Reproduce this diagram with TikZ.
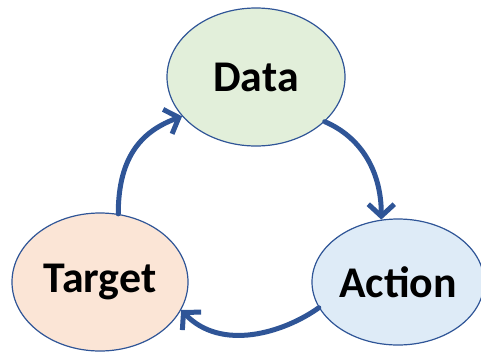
\documentclass[tikz,border=0pt]{standalone}
\usepackage{fontspec}
\setmainfont{Carlito}
\usetikzlibrary{shapes.geometric,arrows.meta}
\definecolor{lineblue}{HTML}{2F5597}
\definecolor{datafill}{HTML}{E2EFDA}
\definecolor{targetfill}{HTML}{FBE5D6}
\definecolor{actionfill}{HTML}{DEEBF7}
\tikzset{
  blob/.style={ellipse, draw=lineblue, line width=1.2bp, inner sep=0pt,
    font=\fontsize{44}{50}\selectfont\bfseries},
  cyc/.style={draw=lineblue, line width=5bp, line cap=round,
    -{Straight Barb[length=12bp,width=26bp]}}
}
\begin{document}
\begin{tikzpicture}[x=1bp,y=-1bp]
\useasboundingbox (0,0) rectangle (481,352);
\node[blob, fill=datafill, minimum width=178bp, minimum height=138bp] (d) at (256,77) {Data};
\node[blob, fill=targetfill, minimum width=176bp, minimum height=138bp] (t) at (100,282) {Target};
\node[blob, fill=actionfill, minimum width=172bp, minimum height=126bp] (a) at (398,282) {Action};
\draw[cyc] (t.75) .. controls +(0,-60) and +(-38,14) .. (d.208);
\draw[cyc] (d.-33) .. controls +(35,15) and +(0,-50) .. (a.105);
\draw[cyc] (a.198) .. controls +(-35,25) and +(40,42) .. (t.-19);
\end{tikzpicture}
\end{document}
